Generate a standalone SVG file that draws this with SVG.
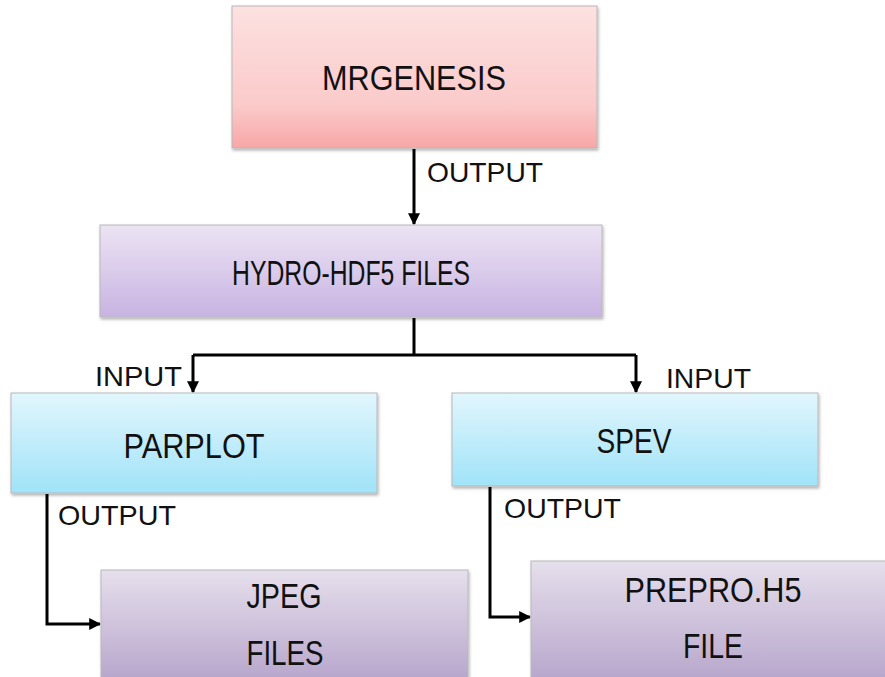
<svg xmlns="http://www.w3.org/2000/svg" width="885" height="677" viewBox="0 0 885 677">
<style>
.box{stroke:#b8b8b8;stroke-width:1;filter:url(#sh)}
.t{font-family:"Liberation Sans",Arial,sans-serif;font-size:35px;fill:#111;text-anchor:middle}
.l{font-family:"Liberation Sans",Arial,sans-serif;font-size:28px;fill:#111}
.c{fill:none;stroke:#000;stroke-width:3}
</style>
<defs>
<linearGradient id="gPink" x1="0" y1="0" x2="0" y2="1"><stop offset="0" stop-color="#fde1e1"/><stop offset="0.7" stop-color="#fbcaca"/><stop offset="1" stop-color="#f8a6a6"/></linearGradient>
<linearGradient id="gLav" x1="0" y1="0" x2="0" y2="1"><stop offset="0" stop-color="#ece4f4"/><stop offset="1" stop-color="#c8b3e2"/></linearGradient>
<linearGradient id="gCyan" x1="0" y1="0" x2="0" y2="1"><stop offset="0" stop-color="#e2f6fd"/><stop offset="1" stop-color="#a0e3f8"/></linearGradient>
<linearGradient id="gMauve" x1="0" y1="0" x2="0" y2="1"><stop offset="0" stop-color="#e6dfec"/><stop offset="1" stop-color="#b3a1c9"/></linearGradient>
<filter id="sh" x="-5%" y="-5%" width="110%" height="120%"><feDropShadow dx="1" dy="2" stdDeviation="1.5" flood-color="#000" flood-opacity="0.3"/></filter>
<marker id="ah" viewBox="0 0 10 10" refX="9" refY="5" markerWidth="4" markerHeight="4" orient="auto" markerUnits="strokeWidth"><path d="M0,0 L10,5 L0,10 z" fill="#000"/></marker>
</defs>
<g id="connectors">
<path class="c" d="M414,149 V224" marker-end="url(#ah)"/>
<path class="c" d="M414,318 V355"/>
<path class="c" d="M193,355 H636"/>
<path class="c" d="M193,355 V392" marker-end="url(#ah)"/>
<path class="c" d="M636,355 V392" marker-end="url(#ah)"/>
<path class="c" d="M47,494 V624 H100" marker-end="url(#ah)"/>
<path class="c" d="M490,487 V617 H530" marker-end="url(#ah)"/>
<text class="l" x="427" y="182" textLength="116" lengthAdjust="spacingAndGlyphs">OUTPUT</text>
<text class="l" x="95" y="386" textLength="87" lengthAdjust="spacingAndGlyphs">INPUT</text>
<text class="l" x="666" y="388" textLength="85" lengthAdjust="spacingAndGlyphs">INPUT</text>
<text class="l" x="58" y="525" textLength="118" lengthAdjust="spacingAndGlyphs">OUTPUT</text>
<text class="l" x="504" y="518" textLength="117" lengthAdjust="spacingAndGlyphs">OUTPUT</text>
</g>
<g id="mrgenesis">
<rect class="box" x="232" y="6" width="365" height="142" fill="url(#gPink)"/>
<text class="t" x="414" y="90" textLength="184" lengthAdjust="spacingAndGlyphs">MRGENESIS</text>
</g>
<g id="hydro">
<rect class="box" x="100" y="225" width="502" height="92" fill="url(#gLav)"/>
<text class="t" x="351" y="285" textLength="238" lengthAdjust="spacingAndGlyphs">HYDRO-HDF5 FILES</text>
</g>
<g id="parplot">
<rect class="box" x="11" y="393" width="366" height="100" fill="url(#gCyan)"/>
<text class="t" x="194" y="458" textLength="141" lengthAdjust="spacingAndGlyphs">PARPLOT</text>
</g>
<g id="spev">
<rect class="box" x="452" y="393" width="366" height="93" fill="url(#gCyan)"/>
<text class="t" x="634" y="453" textLength="75" lengthAdjust="spacingAndGlyphs">SPEV</text>
</g>
<g id="jpeg">
<rect class="box" x="101" y="570" width="367" height="120" fill="url(#gMauve)"/>
<text class="t" x="284" y="608" textLength="75" lengthAdjust="spacingAndGlyphs">JPEG</text>
<text class="t" x="285" y="665" textLength="77" lengthAdjust="spacingAndGlyphs">FILES</text>
</g>
<g id="prepro">
<rect class="box" x="531" y="561" width="370" height="130" fill="url(#gMauve)"/>
<text class="t" x="713" y="602" textLength="177" lengthAdjust="spacingAndGlyphs">PREPRO.H5</text>
<text class="t" x="713" y="658" textLength="60" lengthAdjust="spacingAndGlyphs">FILE</text>
</g>
</svg>
